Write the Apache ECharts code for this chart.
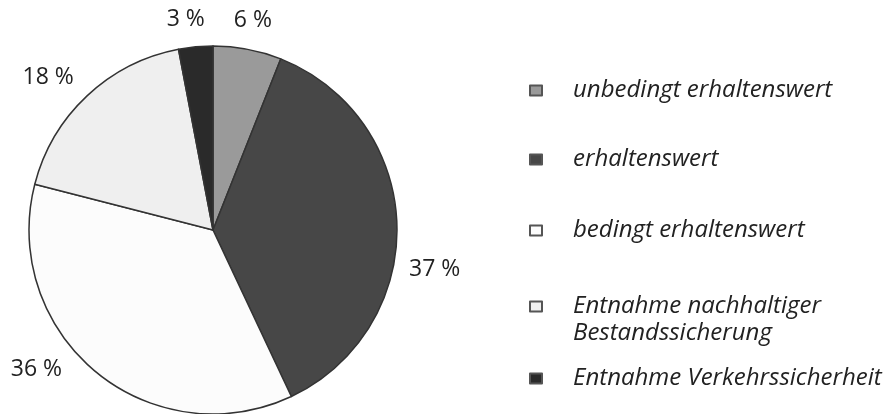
<!DOCTYPE html>
<html>
<head>
<meta charset="utf-8">
<script src="https://cdn.jsdelivr.net/npm/echarts@6/dist/echarts.min.js"></script>
<style>
  html, body { margin: 0; padding: 0; background: #fff; }
  #chart { width: 892px; height: 414px; }
</style>
</head>
<body>
<div id="chart"></div>
<script>
// categories and shares (percent), clockwise from 12 o'clock
const categories = [
  'unbedingt erhaltenswert',
  'erhaltenswert',
  'bedingt erhaltenswert',
  'Entnahme nachhaltiger\nBestandssicherung',
  'Entnahme Verkehrssicherheit'
];
const shares = [6, 37, 36, 18, 3];
const colors = ['#9a9a9a', '#474747', '#fcfcfc', '#efefef', '#2a2a2a'];
const legendTops = [77, 146, 217, 266, 365];
// small angular nudge (deg) for the percent labels, like in the original
const labelShift = [0, 12, 12, -4, -2];

const CENTER = [213, 230];
const RADIUS = 184;
const LABEL_GAP = 14;

const el = document.getElementById('chart');
const chart = echarts.init(el);

// one legend block per entry so the uneven spacing can be matched
const legends = categories.map((name, i) => ({
  data: [name],
  orient: 'vertical',
  left: 529,
  top: legendTops[i],
  padding: 0,
  icon: 'rect',
  itemWidth: 12,
  itemHeight: 10,
  itemGap: 0,
  selectedMode: false,
  itemStyle: { borderColor: '#555', borderWidth: 2 },
  // empty first line keeps the marker beside the first text line
  formatter: n => (n.indexOf('\n') >= 0 ? ' \n' + n : n),
  textStyle: {
    fontFamily: 'Open Sans',
    fontStyle: 'italic',
    fontSize: 24,
    lineHeight: 27,
    color: '#222',
    padding: [0, 0, 0, 26]
  }
}));

// put each label just outside the circle, its box kept a fixed gap away
function placeLabel(p) {
  const p0 = p.labelLinePoints[0];
  let a = Math.atan2(p0[1] - CENTER[1], p0[0] - CENTER[0]);
  a += labelShift[p.dataIndex] * Math.PI / 180;
  const ux = Math.cos(a), uy = Math.sin(a);
  const ext = p.labelRect.width / 2 * Math.abs(ux) + p.labelRect.height / 2 * Math.abs(uy);
  const d = RADIUS + LABEL_GAP + ext;
  return {
    x: CENTER[0] + ux * d,
    y: CENTER[1] + uy * d,
    align: 'center',
    verticalAlign: 'middle'
  };
}

chart.setOption({
  animation: false,
  legend: legends,
  series: [{
    type: 'pie',
    center: CENTER,
    radius: RADIUS,
    startAngle: 90,
    clockwise: true,
    data: categories.map((name, i) => ({
      name: name,
      value: shares[i],
      itemStyle: { color: colors[i] }
    })),
    itemStyle: { borderColor: '#333', borderWidth: 1.5 },
    label: {
      position: 'outside',
      formatter: p => p.value + ' %',
      fontFamily: 'Open Sans',
      fontSize: 23,
      color: '#222'
    },
    labelLine: { show: false, length: 10, length2: 0 },
    labelLayout: placeLabel,
    emphasis: { disabled: true }
  }]
});
window.onresize = () => chart.resize();
</script>
</body>
</html>
